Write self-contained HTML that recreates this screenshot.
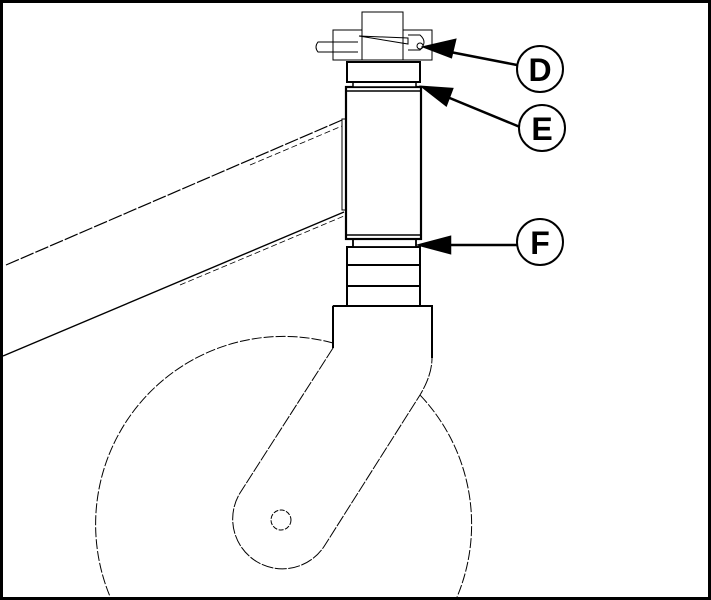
<!DOCTYPE html><html><head><style>html,body{margin:0;background:#fff;overflow:hidden;width:711px;height:600px}svg{display:block}</style></head><body>
<svg width="711" height="600" viewBox="0 0 711 600" xmlns="http://www.w3.org/2000/svg" font-family="Liberation Sans, sans-serif">
<defs><clipPath id="c"><rect x="0" y="0" width="711" height="600"/></clipPath></defs>
<g fill="none" stroke="#000" clip-path="url(#c)">
<line x1="6" y1="265" x2="342" y2="120" stroke-width="1.2" stroke-dasharray="14 2"/>
<line x1="250" y1="165" x2="342" y2="126" stroke-width="0.8" stroke-dasharray="6 3"/>
<line x1="3" y1="356" x2="344" y2="212" stroke-width="1.4"/>
<line x1="180" y1="285" x2="344" y2="216" stroke-width="0.8" stroke-dasharray="6 3"/>
<rect x="342" y="119" width="4" height="91" stroke-width="1"/>
<path d="M333 343 A188 188 0 1 0 420 395" stroke-width="1" stroke-dasharray="10 2"/>
<path d="M333 348 L240 493 A49 49 0 0 0 325 545 L420 395 Q432 375 432 358 L432 306 L333 306 Z" fill="#fff" stroke-width="1" stroke-dasharray="12 1.5"/>
<path d="M333 306 L333 348 M333 306 L432 306 L432 358" stroke-width="2"/>
<circle cx="281" cy="520" r="10" stroke-width="1" stroke-dasharray="5 1.5"/>
<rect x="347" y="247" width="73" height="59" fill="#fff" stroke-width="2"/>
<line x1="347" y1="265" x2="420" y2="265" stroke-width="2"/>
<line x1="347" y1="286" x2="420" y2="286" stroke-width="2"/>
<rect x="353" y="239" width="63" height="8" fill="#fff" stroke-width="1.8"/>
<rect x="346" y="87" width="75" height="152" fill="#fff" stroke-width="2.2"/>
<line x1="346" y1="91" x2="421" y2="91" stroke-width="1.5"/>
<line x1="346" y1="235" x2="421" y2="235" stroke-width="1.5"/>
<rect x="353" y="82" width="63" height="5" fill="#fff" stroke-width="1.5"/>
<rect x="347" y="62" width="73" height="20" fill="#fff" stroke-width="2"/>
<rect x="333" y="30" width="99" height="30" fill="#fff" stroke-width="1"/>
<rect x="362" y="12" width="41" height="48" fill="#fff" stroke-width="1"/>
<path d="M358 42 L318 42 Q314 47 318 52 L358 52" stroke-width="1"/>
<path d="M359 36 L408 44 L408 38 L359 36 Z" stroke-width="1"/>
<path d="M408 35 L420 35 Q428 42 420 50 L408 50" stroke-width="1"/>
<circle cx="420" cy="46" r="3" stroke-width="1"/>
</g>
<rect x="1.5" y="1.5" width="708" height="597" fill="none" stroke="#000" stroke-width="3"/>
<g stroke="#000" stroke-width="2.5" fill="#000">
<line x1="517" y1="65" x2="440" y2="50"/>
<polygon points="425,47 455,40 451,57"/>
<line x1="520" y1="127" x2="440" y2="94"/>
<polygon points="423,87 452,89 446,105"/>
<line x1="517" y1="245" x2="440" y2="245"/>
<polygon points="420,245 450,237 450,253"/>
</g>
<g fill="#fff" stroke="#000" stroke-width="2">
<circle cx="540" cy="69" r="23"/><circle cx="542" cy="128" r="23"/><circle cx="540" cy="242" r="23"/>
</g>
<g font-size="32" font-weight="bold" text-anchor="middle">
<text x="540" y="81">D</text><text x="542" y="140">E</text><text x="540" y="254">F</text>
</g>
</svg></body></html>
